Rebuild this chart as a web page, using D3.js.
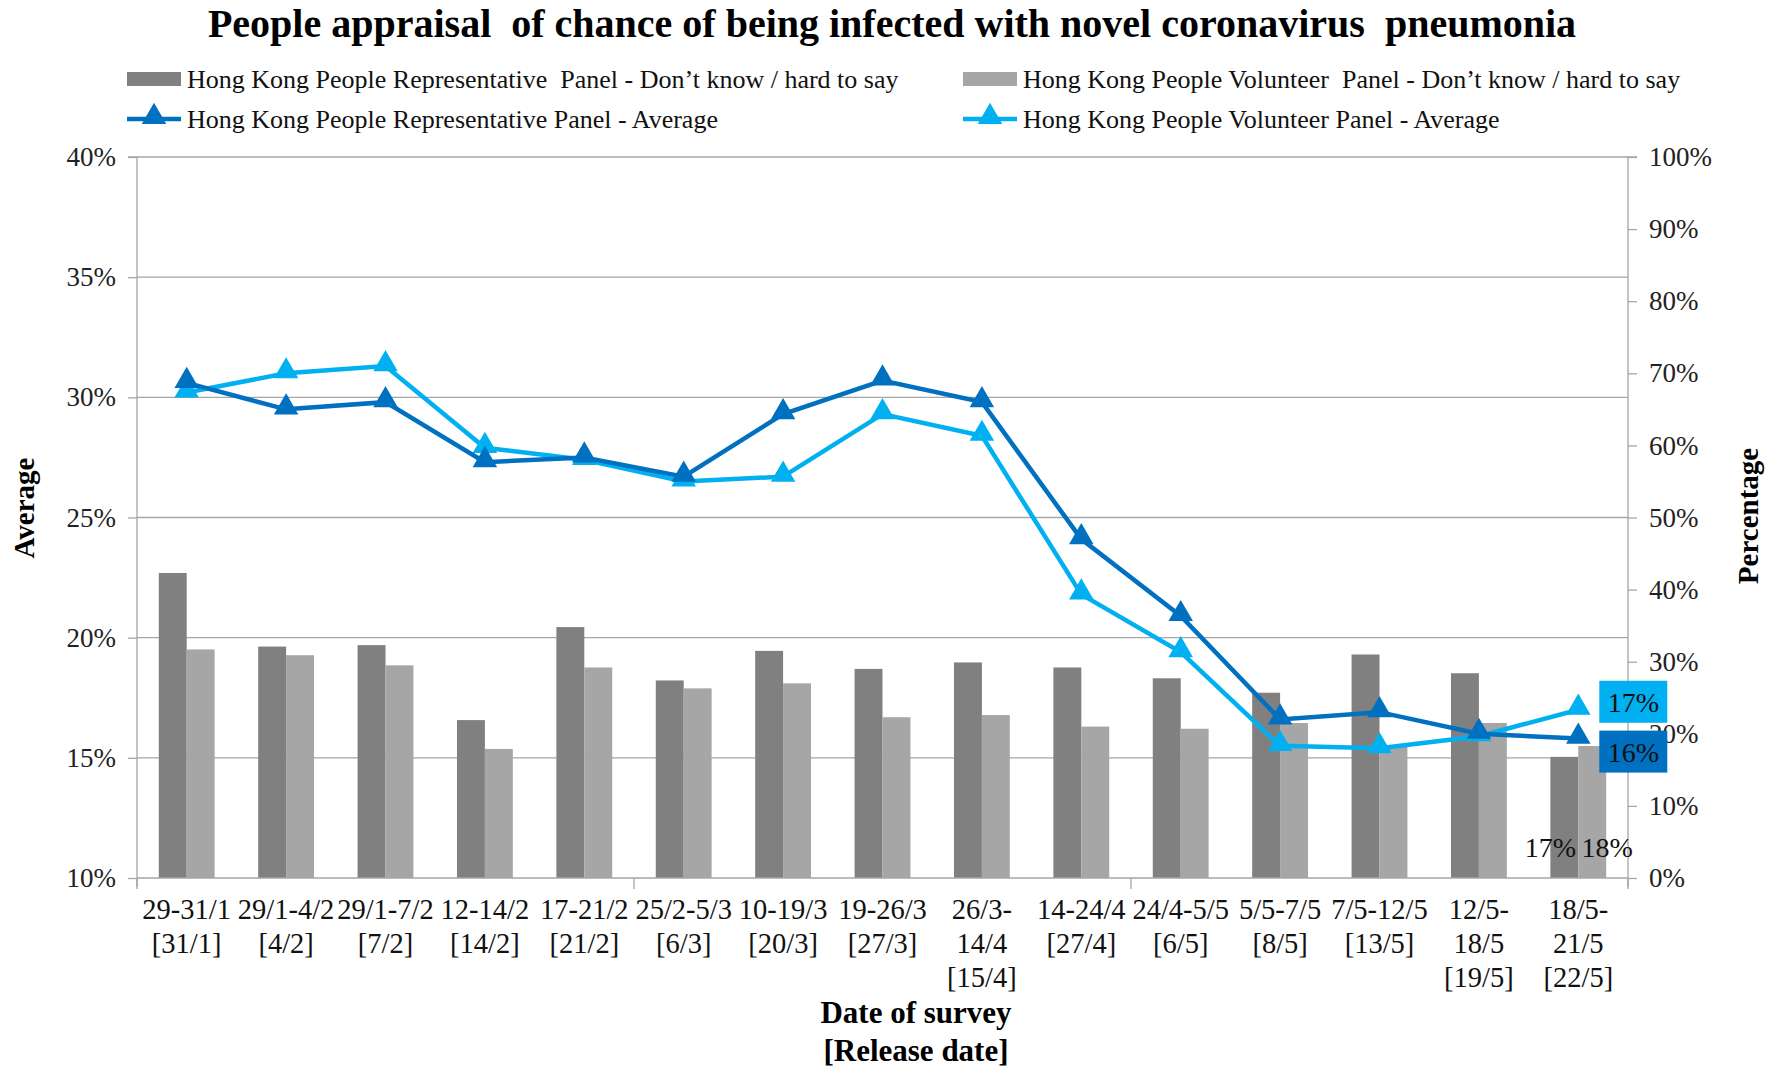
<!DOCTYPE html>
<html>
<head>
<meta charset="utf-8">
<script src="https://cdn.jsdelivr.net/npm/d3@7.9.0/dist/d3.min.js"></script>
<style>
  body { margin: 0; background: #fff; }
  svg { font-family: "Liberation Serif", "Times New Roman", serif; }
  text { white-space: pre; }
</style>
</head>
<body>
<svg id="chart" width="1771" height="1070"></svg>
<script>
// survey periods (wrapped the way the picture wraps them) and release dates
const surveyLines = [
  ["29-31/1"], ["29/1-4/2"], ["29/1-7/2"], ["12-14/2"], ["17-21/2"],
  ["25/2-5/3"], ["10-19/3"], ["19-26/3"], ["26/3-", "14/4"], ["14-24/4"],
  ["24/4-5/5"], ["5/5-7/5"], ["7/5-12/5"], ["12/5-", "18/5"], ["18/5-", "21/5"]
];
const releaseDates = [
  "[31/1]", "[4/2]", "[7/2]", "[14/2]", "[21/2]", "[6/3]", "[20/3]", "[27/3]",
  "[15/4]", "[27/4]", "[6/5]", "[8/5]", "[13/5]", "[19/5]", "[22/5]"
];

// "Don't know / hard to say" shares (right axis, %)
const repDontKnow = [42.3, 32.1, 32.3, 21.9, 34.8, 27.4, 31.5, 29.0, 29.9, 29.2, 27.7, 25.7, 31.0, 28.4, 16.8];
const volDontKnow = [31.7, 30.9, 29.5, 17.9, 29.2, 26.3, 27.0, 22.3, 22.6, 21.0, 20.7, 21.5, 18.3, 21.5, 18.3];

// averages (left axis, %)
const repAverage = [30.6, 29.5, 29.8, 27.3, 27.5, 26.7, 29.3, 30.7, 29.8, 24.1, 20.9, 16.6, 16.9, 16.0, 15.8];
const volAverage = [30.2, 31.0, 31.3, 27.9, 27.4, 26.5, 26.7, 29.3, 28.4, 21.8, 19.4, 15.5, 15.4, 15.9, 17.0];

const leftTicks = [10, 15, 20, 25, 30, 35, 40];
const rightTicks = [0, 10, 20, 30, 40, 50, 60, 70, 80, 90, 100];

const colors = {
  repBar: "#808080",
  volBar: "#a6a6a6",
  repLine: "#0070c0",
  volLine: "#00b0f0",
  grid: "#a6a6a6"
};

const svg = d3.select("#chart");
const plot = { left: 137, right: 1628, top: 157, bottom: 878 };

const idx = d3.range(surveyLines.length);

const x = d3.scaleBand()
  .domain(idx)
  .range([plot.left, plot.right]);

const xBar = d3.scaleBand()
  .domain(["rep", "vol"])
  .range([0, x.bandwidth()])
  .paddingInner(0)
  .paddingOuter(0.78);

const yLeft = d3.scaleLinear().domain([10, 40]).range([plot.bottom, plot.top]);
const yRight = d3.scaleLinear().domain([0, 100]).range([plot.bottom, plot.top]);

// title
svg.append("text")
  .attr("x", 892)
  .attr("y", 37)
  .attr("text-anchor", "middle")
  .attr("font-size", 40)
  .attr("font-weight", "bold")
  .text("People appraisal  of chance of being infected with novel coronavirus  pneumonia");

// gridlines
svg.append("g")
  .selectAll("line")
  .data(leftTicks.slice(1))
  .join("line")
  .attr("x1", plot.left)
  .attr("x2", plot.right)
  .attr("y1", (d) => yLeft(d))
  .attr("y2", (d) => yLeft(d))
  .attr("stroke", colors.grid)
  .attr("stroke-width", 1.3);

// bars
const groups = svg.append("g")
  .selectAll("g")
  .data(idx)
  .join("g")
  .attr("transform", (i) => `translate(${x(i)},0)`);

groups.append("rect")
  .attr("x", xBar("rep"))
  .attr("width", xBar.bandwidth())
  .attr("y", (i) => yRight(repDontKnow[i]))
  .attr("height", (i) => plot.bottom - yRight(repDontKnow[i]))
  .attr("fill", colors.repBar);

groups.append("rect")
  .attr("x", xBar("vol"))
  .attr("width", xBar.bandwidth())
  .attr("y", (i) => yRight(volDontKnow[i]))
  .attr("height", (i) => plot.bottom - yRight(volDontKnow[i]))
  .attr("fill", colors.volBar);

// axes
const leftAxis = d3.axisLeft(yLeft)
  .tickValues(leftTicks)
  .tickSize(9)
  .tickPadding(12)
  .tickFormat((d) => d + "%");

const rightAxis = d3.axisRight(yRight)
  .tickValues(rightTicks)
  .tickSize(9)
  .tickPadding(12)
  .tickFormat((d) => d + "%");

function styleAxis(g) {
  g.select(".domain").attr("stroke", colors.grid).attr("stroke-width", 1.3);
  g.selectAll(".tick line").attr("stroke", colors.grid).attr("stroke-width", 1.3);
  g.selectAll(".tick text")
    .attr("font-family", "\"Liberation Serif\", serif")
    .attr("font-size", 27)
    .attr("fill", "#222");
}

svg.append("g")
  .attr("transform", `translate(${plot.left},0)`)
  .call(leftAxis)
  .call((g) => g.select(".domain").attr("d", `M-9,${plot.top}H0V${plot.bottom + 9}`))
  .call(styleAxis);

svg.append("g")
  .attr("transform", `translate(${plot.right},0)`)
  .call(rightAxis)
  .call((g) => g.select(".domain").attr("d", `M9,${plot.top}H0V${plot.bottom + 9}`))
  .call(styleAxis);

// x axis baseline with ticks every five categories
const xAxis = svg.append("g");
xAxis.append("line")
  .attr("x1", plot.left)
  .attr("x2", plot.right)
  .attr("y1", plot.bottom)
  .attr("y2", plot.bottom)
  .attr("stroke", colors.grid)
  .attr("stroke-width", 1.3);

xAxis.selectAll(".xtick")
  .data([0, 5, 10, 15])
  .join("line")
  .attr("class", "xtick")
  .attr("x1", (i) => plot.left + i * x.step())
  .attr("x2", (i) => plot.left + i * x.step())
  .attr("y1", plot.bottom)
  .attr("y2", plot.bottom + 11)
  .attr("stroke", colors.grid)
  .attr("stroke-width", 1.3);

// category labels
const catLabels = svg.append("g")
  .selectAll("text")
  .data(idx)
  .join("text")
  .attr("text-anchor", "middle")
  .attr("font-size", 28.5)
  .attr("fill", "#111")
  .attr("y", 919);

catLabels.each(function (i) {
  const lines = surveyLines[i].concat([releaseDates[i]]);
  d3.select(this)
    .selectAll("tspan")
    .data(lines)
    .join("tspan")
    .attr("x", x(i) + x.bandwidth() / 2)
    .attr("dy", (d, k) => (k === 0 ? 0 : 34))
    .text((d) => d);
});

// lines
const triangle = d3.symbol().type(d3.symbolTriangle).size(260);

function drawSeries(values, color) {
  const line = d3.line()
    .x((d, i) => x(i) + x.bandwidth() / 2)
    .y((d) => yLeft(d));

  svg.append("path")
    .datum(values)
    .attr("d", line)
    .attr("fill", "none")
    .attr("stroke", color)
    .attr("stroke-width", 4.5);

  svg.append("g")
    .selectAll("path")
    .data(values)
    .join("path")
    .attr("d", triangle)
    .attr("transform", (d, i) => `translate(${x(i) + x.bandwidth() / 2},${yLeft(d) - 2})`)
    .attr("fill", color);
}

drawSeries(volAverage, colors.volLine);
drawSeries(repAverage, colors.repLine);

// last-point labels for the averages
const last = idx.length - 1;
const lastX = x(last) + x.bandwidth() / 2;

const avgLabels = [
  { value: volAverage[last], color: colors.volLine, shift: -8 },
  { value: repAverage[last], color: colors.repLine, shift: 13 }
];

avgLabels.forEach((d) => {
  const cy = yLeft(d.value) + d.shift;
  svg.append("rect")
    .attr("x", lastX + 21)
    .attr("y", cy - 21)
    .attr("width", 68)
    .attr("height", 42)
    .attr("fill", d.color);
  svg.append("text")
    .attr("x", lastX + 55)
    .attr("y", cy + 10)
    .attr("text-anchor", "middle")
    .attr("font-size", 28)
    .attr("fill", "#111")
    .text(Math.round(d.value) + "%");
});

// last-bar labels near the base
const barLabels = [
  { value: repDontKnow[last], key: "rep", shift: -14 },
  { value: volDontKnow[last], key: "vol", shift: 15 }
];

svg.append("g")
  .selectAll("text")
  .data(barLabels)
  .join("text")
  .attr("x", (d) => x(last) + xBar(d.key) + xBar.bandwidth() / 2 + d.shift)
  .attr("y", plot.bottom - 21)
  .attr("text-anchor", "middle")
  .attr("font-size", 28)
  .attr("fill", "#111")
  .text((d) => Math.round(d.value) + "%");

// legend
const legendItems = [
  { label: "Hong Kong People Representative  Panel - Don\u2019t know / hard to say", kind: "bar", color: colors.repBar, x: 127, y: 79 },
  { label: "Hong Kong People Volunteer  Panel - Don\u2019t know / hard to say", kind: "bar", color: colors.volBar, x: 963, y: 79 },
  { label: "Hong Kong People Representative Panel - Average", kind: "line", color: colors.repLine, x: 127, y: 119 },
  { label: "Hong Kong People Volunteer Panel - Average", kind: "line", color: colors.volLine, x: 963, y: 119 }
];

const legend = svg.append("g")
  .selectAll("g")
  .data(legendItems)
  .join("g")
  .attr("transform", (d) => `translate(${d.x},${d.y})`);

legend.filter((d) => d.kind === "bar")
  .append("rect")
  .attr("x", 0)
  .attr("y", -7)
  .attr("width", 54)
  .attr("height", 14)
  .attr("fill", (d) => d.color);

legend.filter((d) => d.kind === "line")
  .append("line")
  .attr("x1", 0)
  .attr("x2", 54)
  .attr("stroke", (d) => d.color)
  .attr("stroke-width", 4.5);

legend.filter((d) => d.kind === "line")
  .append("path")
  .attr("d", triangle)
  .attr("transform", "translate(27,-2)")
  .attr("fill", (d) => d.color);

legend.append("text")
  .attr("x", 60)
  .attr("y", 9)
  .attr("font-size", 26)
  .attr("fill", "#111")
  .text((d) => d.label);

// axis titles
svg.append("text")
  .attr("transform", "translate(34,508) rotate(-90)")
  .attr("text-anchor", "middle")
  .attr("font-size", 29)
  .attr("font-weight", "bold")
  .text("Average");

svg.append("text")
  .attr("transform", "translate(1758,516) rotate(-90)")
  .attr("text-anchor", "middle")
  .attr("font-size", 29)
  .attr("font-weight", "bold")
  .text("Percentage");

svg.append("text")
  .attr("x", 916)
  .attr("y", 1023)
  .attr("text-anchor", "middle")
  .attr("font-size", 31)
  .attr("font-weight", "bold")
  .text("Date of survey");

svg.append("text")
  .attr("x", 916)
  .attr("y", 1061)
  .attr("text-anchor", "middle")
  .attr("font-size", 31)
  .attr("font-weight", "bold")
  .text("[Release date]");
</script>
</body>
</html>
